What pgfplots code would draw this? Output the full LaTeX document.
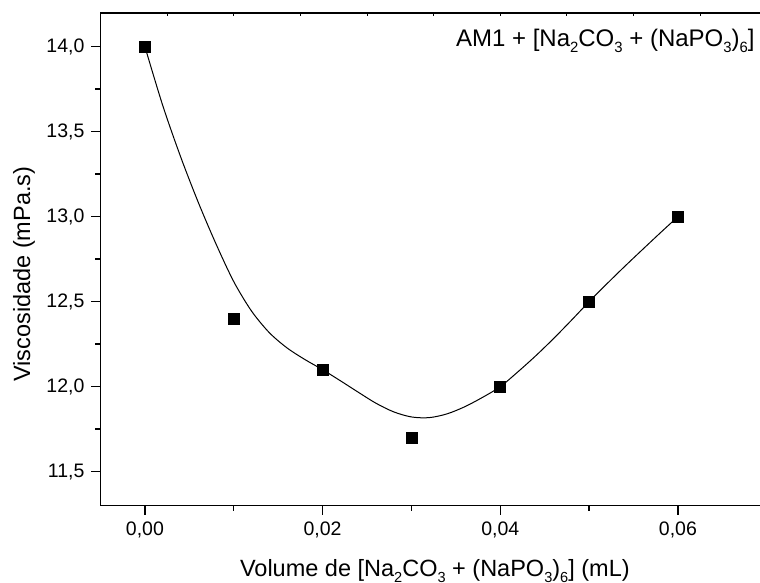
\documentclass[border=0pt]{standalone}
\usepackage{fontspec}
\setmainfont{Liberation Sans}
\usepackage{graphicx}
\usepackage{pgfplots}
\usepackage{pgfplotstable}
\pgfplotsset{compat=1.18}
\newcommand{\sub}[1]{\raisebox{-0.45ex}{\scalebox{0.62}{#1}}}

\pgfplotstableread{
x y
0.00 14.0
0.01 12.4
0.02 12.1
0.03 11.7
0.04 12.0
0.05 12.5
0.06 13.0
}\measured

\pgfplotstableread{
x y
0.000 14.000
0.002 13.655
0.004 13.355
0.006 13.085
0.008 12.840
0.010 12.618
0.012 12.445
0.014 12.318
0.016 12.228
0.018 12.160
0.020 12.100
0.022 12.035
0.024 11.968
0.026 11.903
0.028 11.852
0.030 11.822
0.032 11.818
0.034 11.840
0.036 11.882
0.038 11.937
0.040 12.000
0.042 12.088
0.044 12.182
0.046 12.283
0.048 12.390
0.050 12.500
0.052 12.605
0.054 12.707
0.056 12.806
0.058 12.904
0.060 13.000
}\fitcurve

\begin{document}
\begin{tikzpicture}
\begin{axis}[
  at={(0,0)}, anchor=south west,
  scale only axis,
  width=329.75pt, height=246.35pt,
  xmin=-0.005, xmax=0.06924,
  ymin=11.3, ymax=14.198,
  axis x line*=bottom, axis y line*=left,
  axis line style={line width=0.8pt},
  xtick={0,0.02,0.04,0.06},
  minor xtick={0.01,0.03,0.05},
  ytick={11.5,12,12.5,13,13.5,14},
  minor ytick={11.75,12.25,12.75,13.25,13.75},
  tick align=outside,
  major tick length=4.5pt,
  minor tick length=2.5pt,
  every tick/.style={black, line width=0.7pt},
  scaled x ticks=false,
  scaled y ticks=false,
  /pgf/number format/assume math mode=true,
  tick label style={font=\fontsize{9.75}{11}\selectfont},
  xticklabel style={/pgf/number format/.cd, fixed, fixed zerofill, precision=2, use comma},
  yticklabel style={/pgf/number format/.cd, fixed, fixed zerofill, precision=1, use comma},
  xlabel={Volume de [Na\sub{2}CO\sub{3} + (NaPO\sub{3})\sub{6}] (mL)},
  ylabel={Viscosidade (mPa.s)},
  label style={font=\fontsize{11.75}{13}\selectfont},
  xlabel style={at={(axis description cs:0.507,0)}, anchor=base, yshift=-35.5pt},
  ylabel style={at={(axis description cs:-0.116,0.47)}, anchor=center},
  clip=false,
]
\addplot[black, line width=0.5pt, smooth, no marks] table[x=x,y=y] {\fitcurve};
\addplot[black, only marks, mark=square*, mark size=2.75pt] table[x=x,y=y] {\measured};
\node[anchor=base east, font=\fontsize{12}{14}\selectfont, inner sep=0pt, xshift=-2.5pt, yshift=-16.85pt] at (rel axis cs:1,1)
  {AM1 + [Na\sub{2}CO\sub{3} + (NaPO\sub{3})\sub{6}]};
\end{axis}
\begin{axis}[
  at={(0,0)}, anchor=south west,
  scale only axis,
  width=329.75pt, height=246.35pt,
  xmin=-0.005, xmax=0.06924,
  ymin=11.3, ymax=14.198,
  axis x line*=top, axis y line=none,
  axis line style={line width=0.8pt},
  xtick={-0.005,0.0025,0.01,0.0175,0.025,0.0325,0.04,0.0475,0.055,0.0625},
  xticklabels={},
  tick align=inside,
  major tick length=1.5pt,
  every tick/.style={black, line width=0.5pt},
  scaled x ticks=false,
]
\end{axis}
\pgfresetboundingbox
\useasboundingbox (-50.25pt,-38.65pt) rectangle (329.75pt,252.85pt);
\end{tikzpicture}
\end{document}
